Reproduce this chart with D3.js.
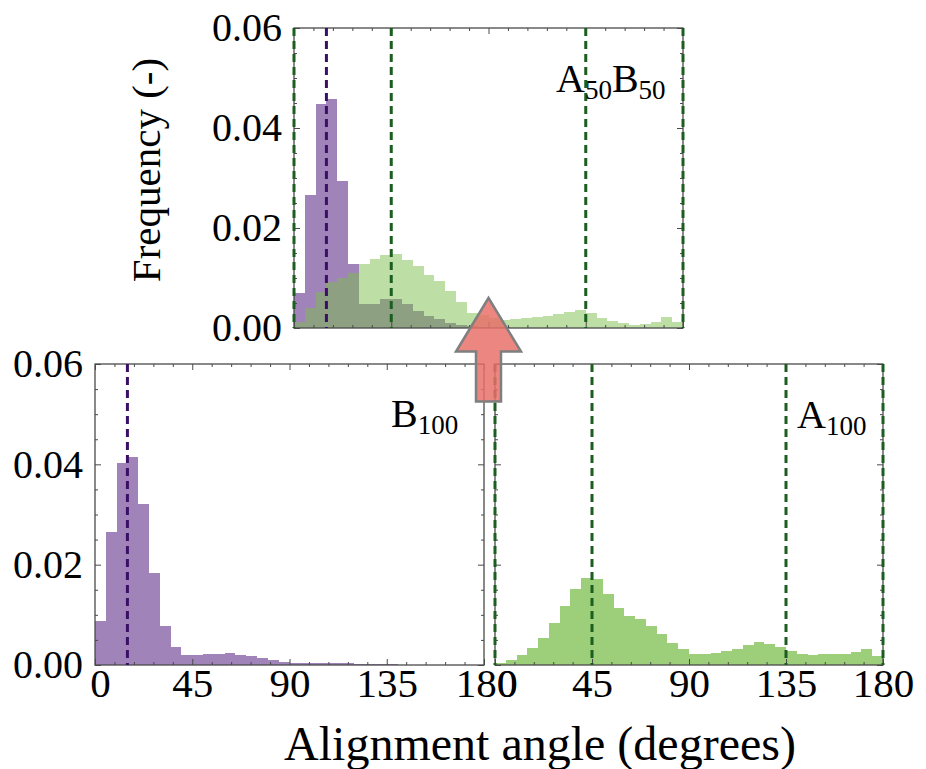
<!DOCTYPE html>
<html>
<head>
<meta charset="utf-8">
<script src="https://cdn.jsdelivr.net/npm/d3@7"></script>
<style>
  body { margin: 0; background: #fff; }
  svg { display: block; }
  text { font-family: "Liberation Serif", "Times New Roman", serif; fill: #000; }
</style>
</head>
<body>
<div id="chart"></div>
<script>
// Data
// ===========================

// histogram bins (left edge, degrees), 5 degree wide
var angleBins = [0, 5, 10, 15, 20, 25, 30, 35, 40, 45, 50, 55, 60, 65, 70, 75, 80, 85,
  90, 95, 100, 105, 110, 115, 120, 125, 130, 135, 140, 145, 150, 155, 160, 165, 170, 175];
var binWidth = 5;

// B100 frequencies
var b100 = [0.0088, 0.0266, 0.0402, 0.0414, 0.0321, 0.0184, 0.0078, 0.0035, 0.0019, 0.0019,
  0.0021, 0.0022, 0.0023, 0.0020, 0.0017, 0.0013, 0.0010, 0.0005, 0.0003, 0.0003,
  0.0003, 0.0004, 0.0004, 0.0003, 0.0002, 0.0001, 0.0001, 0.0001, 0, 0,
  0, 0, 0, 0, 0, 0];

// A100 frequencies
var a100 = [0.0003, 0.0009, 0.0020, 0.0033, 0.0053, 0.0084, 0.0118, 0.0152, 0.0173, 0.0171,
  0.0141, 0.0113, 0.0098, 0.0091, 0.0078, 0.0061, 0.0043, 0.0031, 0.0022, 0.0022,
  0.0023, 0.0027, 0.0031, 0.0040, 0.0045, 0.0041, 0.0035, 0.0027, 0.0022, 0.0020,
  0.0021, 0.0021, 0.0021, 0.0025, 0.0031, 0.0018];

// A50B50 mixture: B part and A part
var mixB = [0.0070, 0.0267, 0.0449, 0.0459, 0.0295, 0.0128, 0.0048, 0.0048, 0.0059, 0.0058,
  0.0049, 0.0035, 0.0025, 0.0018, 0.0010, 0.0007, 0.0004, 0.0003, 0.0002, 0.0002,
  0.0001, 0.0001, 0.0001, 0.0001, 0, 0, 0, 0, 0, 0,
  0, 0, 0, 0, 0, 0];
var mixA = [0.0013, 0.0040, 0.0072, 0.0093, 0.0100, 0.0110, 0.0128, 0.0138, 0.0146, 0.0148,
  0.0137, 0.0125, 0.0107, 0.0095, 0.0075, 0.0053, 0.0030, 0.0026, 0.0020, 0.0017,
  0.0019, 0.0020, 0.0022, 0.0025, 0.0028, 0.0033, 0.0037, 0.0030, 0.0020, 0.0015,
  0.0011, 0.0007, 0.0009, 0.0013, 0.0022, 0.0012];

// dashed reference angles
var bMarks = [15];
var aMarks = [0, 45, 135, 180];

// ticks
var xMajor = [0, 45, 90, 135, 180];
var xMinor = [9, 18, 27, 36, 54, 63, 72, 81, 99, 108, 117, 126, 144, 153, 162, 171];
var yMajor = [0, 0.02, 0.04, 0.06];
var yMinor = [0.005, 0.01, 0.015, 0.025, 0.03, 0.035, 0.045, 0.05, 0.055];

// Setup
// ===========================
var width = 926;
var height = 769;

var purple = "#a083b9";
var green = "#7bbd4c";
var purpleDash = "#3c0f66";
var greenDash = "#1b5e20";
var frameColor = "#4a4a4a";

var svg = d3.select("#chart")
  .append("svg")
  .attr("width", width)
  .attr("height", height);

// draw one framed histogram panel
function drawPanel(p) {
  var x = d3.scaleLinear().domain([0, 180]).range([0, p.w]);
  var y = d3.scaleLinear().domain([0, 0.06]).range([p.h, 0]);

  var g = svg.append("g").attr("transform", "translate(" + p.left + "," + p.top + ")");

  // bars
  p.series.forEach(function(s) {
    g.append("g")
      .selectAll("rect")
      .data(s.values)
      .enter()
      .append("rect")
      .attr("x", function(d, i) { return x(angleBins[i]); })
      .attr("width", function(d, i) { return x(angleBins[i] + binWidth) - x(angleBins[i]); })
      .attr("y", function(d) { return y(d); })
      .attr("height", function(d) { return y(0) - y(d); })
      .attr("fill", s.color)
      .attr("fill-opacity", s.opacity)
      .attr("shape-rendering", "crispEdges");
  });

  // frame ticks, all pointing inward
  function tickAxis(axis, tr) {
    var a = g.append("g").attr("transform", tr).call(axis);
    a.select(".domain").remove();
    a.selectAll("line").attr("stroke", frameColor).attr("stroke-width", 1);
    return a;
  }
  tickAxis(d3.axisBottom(x).tickValues(xMajor).tickSize(-6).tickFormat(""), "translate(0," + p.h + ")");
  tickAxis(d3.axisBottom(x).tickValues(xMinor).tickSize(-3).tickFormat(""), "translate(0," + p.h + ")");
  tickAxis(d3.axisTop(x).tickValues(xMajor).tickSize(-6).tickFormat(""), "translate(0,0)");
  tickAxis(d3.axisTop(x).tickValues(xMinor).tickSize(-3).tickFormat(""), "translate(0,0)");
  tickAxis(d3.axisLeft(y).tickValues(yMajor).tickSize(-6).tickFormat(""), "translate(0,0)");
  tickAxis(d3.axisLeft(y).tickValues(yMinor).tickSize(-3).tickFormat(""), "translate(0,0)");
  tickAxis(d3.axisRight(y).tickValues(yMajor).tickSize(-6).tickFormat(""), "translate(" + p.w + ",0)");
  tickAxis(d3.axisRight(y).tickValues(yMinor).tickSize(-3).tickFormat(""), "translate(" + p.w + ",0)");

  // frame
  g.append("rect")
    .attr("width", p.w)
    .attr("height", p.h)
    .attr("fill", "none")
    .attr("stroke", frameColor)
    .attr("stroke-width", 1.3);

  // dashed lines
  p.marks.forEach(function(m) {
    g.append("g")
      .selectAll("line")
      .data(m.values)
      .enter()
      .append("line")
      .attr("x1", function(d) { return x(d); })
      .attr("x2", function(d) { return x(d); })
      .attr("y1", y(0.06))
      .attr("y2", y(0))
      .attr("stroke", m.color)
      .attr("stroke-width", 3)
      .attr("stroke-dasharray", "8,5");
  });

  // tick labels
  if (p.yLabels) {
    var ya = g.append("g")
      .call(d3.axisLeft(y).tickValues(yMajor).tickSize(0).tickPadding(12).tickFormat(d3.format(".2f")));
    ya.select(".domain").remove();
    ya.selectAll("text").style("font-size", "40px").style("font-family", "'Liberation Serif', serif");
  }
  if (p.xLabels) {
    var xa = g.append("g")
      .attr("transform", "translate(0," + p.h + ")")
      .call(d3.axisBottom(x).tickValues(xMajor).tickSize(0).tickPadding(3).tickFormat(d3.format("d")));
    xa.select(".domain").remove();
    xa.selectAll("text")
      .style("font-size", "41px")
      .style("font-family", "'Liberation Serif', serif")
      .attr("dx", function(d) { return p.xShift[d] || 0; });
  }

  // panel label with subscripts
  var lab = g.append("text")
    .attr("x", p.label.x - p.left)
    .attr("y", p.label.y - p.top)
    .style("font-size", "40px");
  p.label.parts.forEach(function(part) {
    lab.append("tspan")
      .attr("dy", part.sub ? 7 : (part.first ? 0 : -7))
      .style("font-size", part.sub ? "27px" : "40px")
      .text(part.t);
  });

  return { x: x, y: y, g: g };
}

// Panels
// ===========================
var topPanel = drawPanel({
  left: 294, top: 28, w: 389, h: 300,
  series: [
    { values: mixB, color: purple, opacity: 1 },
    { values: mixA, color: green, opacity: 0.5 }
  ],
  marks: [
    { values: aMarks, color: greenDash },
    { values: bMarks, color: purpleDash }
  ],
  yLabels: true, xLabels: false,
  label: { x: 556, y: 92, parts: [
    { t: "A", first: true }, { t: "50", sub: true }, { t: "B" }, { t: "50", sub: true }] }
});

drawPanel({
  left: 95, top: 364, w: 389, h: 301,
  series: [{ values: b100, color: purple, opacity: 1 }],
  marks: [{ values: bMarks, color: purpleDash }],
  yLabels: true, xLabels: true, xShift: { 0: 5, 180: 2 },
  label: { x: 391, y: 427, parts: [{ t: "B", first: true }, { t: "100", sub: true }] }
});

drawPanel({
  left: 495, top: 364, w: 388, h: 301,
  series: [{ values: a100, color: green, opacity: 0.74 }],
  marks: [{ values: aMarks, color: greenDash }],
  yLabels: false, xLabels: true, xShift: { 0: 12 },
  label: { x: 797, y: 428, parts: [{ t: "A", first: true }, { t: "100", sub: true }] }
});

// axis titles
svg.append("text")
  .attr("transform", "translate(160,170)rotate(-90)")
  .attr("text-anchor", "middle")
  .style("font-size", "41px")
  .text("Frequency (-)");

svg.append("text")
  .attr("x", 540)
  .attr("y", 760)
  .attr("text-anchor", "middle")
  .style("font-size", "48px")
  .text("Alignment angle (degrees)");

// red arrow, tip on the top panel at 90 degrees
var tipX = 294 + topPanel.x(90);
var tipY = 28 + topPanel.y(0.006);
var headW = 32.5, headH = 53.5, shaftW = 12.5, arrowLen = 103.5;
var arrowPts = [
  [tipX, tipY],
  [tipX + headW, tipY + headH],
  [tipX + shaftW, tipY + headH],
  [tipX + shaftW, tipY + arrowLen],
  [tipX - shaftW, tipY + arrowLen],
  [tipX - shaftW, tipY + headH],
  [tipX - headW, tipY + headH]
];
svg.append("path")
  .attr("d", d3.line()(arrowPts) + "Z")
  .attr("fill", "#e8716a")
  .attr("fill-opacity", 0.85)
  .attr("stroke", "#7f7f7f")
  .attr("stroke-width", 2.5)
  .attr("stroke-linejoin", "miter");
</script>
</body>
</html>
